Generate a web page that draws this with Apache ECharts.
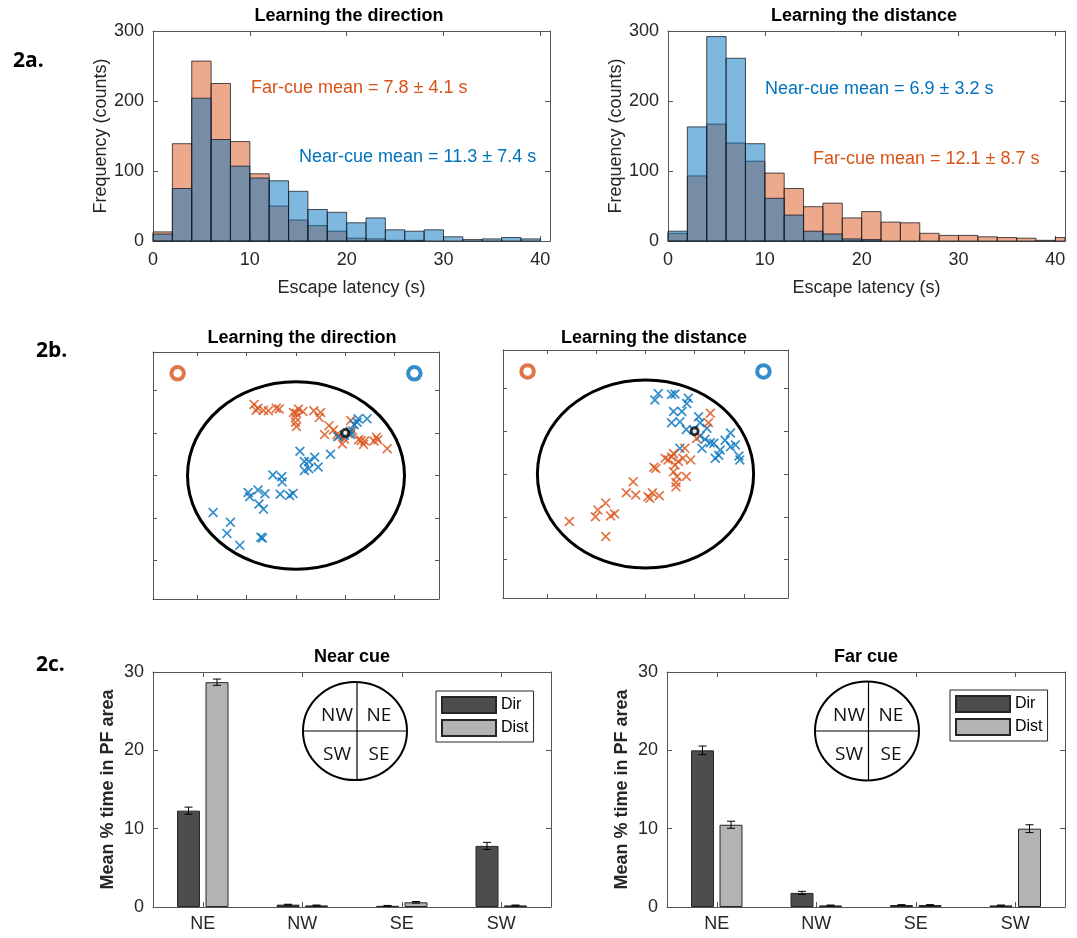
<!DOCTYPE html>
<html><head><meta charset="utf-8">
<script src="https://cdn.jsdelivr.net/npm/echarts@6/dist/echarts.min.js"></script>
<style>html,body{margin:0;padding:0;background:#fff}#c{width:1077px;height:938px}</style>
</head><body><div id="c"></div>
<script>
// ---------------- DATA ----------------
// 2a histograms: bins of 2 s starting at these edges
const BIN_WIDTH = 2;
const binStarts = [0,2,4,6,8,10,12,14,16,18,20,22,24,26,28,30,32,34,36,38,40];
const dirNearCounts  = [10,75,204,145,107,90,86,71,45,41,26,33,16,14,16,6,2,3,5,3,0];
const dirFarCounts   = [13,139,257,225,142,96,50,30,22,14,4,3,1,1,0,0,0,0,0,0,0];
const distNearCounts = [14,163,292,261,139,61,37,14,10,3,2,0,0,0,0,0,0,0,0,0,0];
const distFarCounts  = [11,93,167,140,114,97,75,49,54,33,42,27,26,11,8,8,6,5,4,1,5];
const histXTicks = [0,10,20,30,40];
const histYTicks = [0,100,200,300];

// 2b end positions (pool units, centre at 0,0)
const POOL_RADIUS = 2.2;
const cueFarPos  = [-2.4, 2.4];
const cueNearPos = [2.4, 2.4];
const platformPos = [1.0, 1.0];
const dirFarPts = [[-0.85,1.67],[-0.81,1.53],[-0.77,1.58],[-0.66,1.53],[-0.56,1.52],[-0.40,1.58],[-0.34,1.56],
  [-0.05,1.48],[0.01,1.46],[0.05,1.56],[0.14,1.50],[-0.01,1.36],[-0.01,1.25],[0.01,1.15],[0.36,1.52],[0.50,1.48],
  [0.47,1.36],[0.67,1.17],[0.58,0.96],[0.76,1.07],[0.83,0.96],[0.94,0.74],[0.98,0.86],[1.11,1.29],[1.15,1.05],
  [1.27,0.84],[1.37,0.73],[1.39,0.81],[1.58,0.81],[1.63,0.90],[1.66,0.84],[1.85,0.63],[1.06,0.98],[1.32,0.82],[0.88,0.94]];
const dirNearPts = [[-1.68,-0.87],[-1.33,-1.10],[-1.40,-1.36],[-1.14,-1.64],[-0.71,-1.45],[-0.68,-1.47],[-0.97,-0.40],
  [-0.94,-0.50],[-0.77,-0.34],[-0.63,-0.43],[-0.75,-0.67],[-0.66,-0.79],[-0.47,0.01],[-0.29,-0.03],[-0.28,-0.15],
  [-0.32,-0.44],[-0.13,-0.47],[-0.06,-0.42],[0.08,0.57],[0.17,0.33],[0.26,0.33],[0.17,0.12],[0.26,0.16],[0.38,0.43],
  [0.45,0.20],[0.70,0.50],[0.85,0.91],[0.98,0.94],[1.10,1.04],[1.18,1.19],[1.26,1.33],[1.44,1.33],[1.24,1.25],[1.11,0.96]];
const distNearPts = [[0.19,1.73],[0.26,1.88],[0.53,1.86],[0.60,1.87],[0.87,1.77],[0.84,1.65],[0.57,1.46],[0.74,1.46],
  [0.53,1.20],[0.70,1.22],[0.83,1.04],[1.08,1.34],[1.11,1.20],[1.25,1.07],[0.70,0.60],[1.15,0.60],[1.21,0.81],
  [1.32,0.73],[1.39,0.72],[1.42,0.37],[1.49,0.44],[1.52,0.56],[1.62,0.79],[1.73,0.96],[1.73,0.64],[1.83,0.68],
  [1.90,0.42],[1.92,0.33],[0.98,1.03],[1.11,0.89]];
const distFarPts = [[-1.55,-1.11],[-0.81,-0.68],[-0.97,-0.84],[-1.02,-1.00],[-0.71,-0.98],[-0.63,-0.93],[-0.81,-1.46],
  [-0.25,-0.18],[-0.39,-0.44],[-0.20,-0.49],[0.05,-0.53],[0.14,-0.44],[0.28,-0.51],[0.09,-0.57],[0.17,0.16],
  [0.21,0.13],[0.40,0.37],[0.46,0.33],[0.53,0.40],[0.57,0.48],[0.60,0.21],[0.57,0.05],[0.64,-0.06],[0.62,-0.20],
  [0.62,-0.30],[0.83,-0.06],[0.76,0.37],[0.92,0.33],[0.80,0.60],[1.28,1.20],[1.32,1.42],[1.04,0.83],[0.67,0.29]];

// 2c mean % time in PF area
const quadrants = ['NE','NW','SE','SW'];
const nearDir     = [12.3, 0.3, 0.15, 7.8];
const nearDirErr  = [0.45, 0.05, 0.05, 0.45];
const nearDist    = [28.7, 0.2, 0.6, 0.2];
const nearDistErr = [0.4, 0.05, 0.1, 0.05];
const farDir      = [20.0, 1.8, 0.25, 0.2];
const farDirErr   = [0.55, 0.2, 0.05, 0.05];
const farDist     = [10.5, 0.2, 0.25, 10.0];
const farDistErr  = [0.45, 0.05, 0.05, 0.5];
const barYTicks = [0,10,20,30];

// ---------------- STYLE ----------------
const ORANGE = '#D95319', BLUE = '#0072BD';
const ORANGE_FILL = 'rgba(217,83,25,0.5)', BLUE_FILL = 'rgba(0,114,189,0.5)';
const DIR_COLOR = '#4D4D4D', DIST_COLOR = '#B3B3B3';
const AX = '#555', TXT = '#262626';
const FONT = '"Liberation Sans", Arial, sans-serif';
const HIST_XMAX = 41, SC_LIM = 2.9;
const BAR_W = 23, BAR_GAP_PX = 5.5;

const chart = echarts.init(document.getElementById('c'), null, {renderer:'canvas'});

function axis(gridIndex, position, extra) {
  return Object.assign({
    gridIndex, position,
    axisLine: {show:true, onZero:false, lineStyle:{color:AX, width:1}},
    axisTick: {show:true, inside:true, length:5, lineStyle:{color:AX}},
    splitLine: {show:false},
    axisLabel: {show:false}
  }, extra);
}
const tickLabel = (extra) => Object.assign({show:true, fontSize:18, color:TXT, fontFamily:FONT}, extra);
const nameStyle = (bold) => ({fontSize:18, color:TXT, fontFamily:FONT, fontWeight: bold ? 'bold' : 'normal'});

const grids = [
  {left:153, top:31, width:397, height:210},
  {left:668, top:31, width:397, height:210},
  {left:153, top:352, width:286, height:247},
  {left:503, top:350, width:285, height:248},
  {left:153, top:672, width:398, height:235},
  {left:667, top:672, width:398, height:235}
];

const xAxes = [], yAxes = [];
// histograms
for (let g = 0; g < 2; g++) {
  const xb = {type:'value', min:histXTicks[0], max:HIST_XMAX, interval:10};
  xAxes.push(axis(g, 'bottom', Object.assign({}, xb, {
    axisLabel: tickLabel({margin:10, formatter: v => histXTicks.includes(v) ? String(v) : ''}),
    name:'Escape latency (s)', nameLocation:'middle', nameGap:38, nameTextStyle:nameStyle(false)})));
  xAxes.push(axis(g, 'top', Object.assign({}, xb)));
  const yb = {type:'value', min:histYTicks[0], max:histYTicks[histYTicks.length-1], interval:100};
  yAxes.push(axis(g, 'left', Object.assign({}, yb, {
    axisLabel: tickLabel({margin:9}),
    name:'Frequency (counts)', nameLocation:'middle', nameGap:42, nameRotate:90, nameTextStyle:nameStyle(false)})));
  yAxes.push(axis(g, 'right', Object.assign({}, yb)));
}
// scatter maps
for (let g = 2; g < 4; g++) {
  const b = {type:'value', min:-SC_LIM, max:SC_LIM, splitNumber:5};
  ['bottom','top'].forEach(p => xAxes.push(axis(g, p, Object.assign({}, b, {axisTick:{show:true, inside:true, length:4, lineStyle:{color:AX}}}))));
  ['left','right'].forEach(p => yAxes.push(axis(g, p, Object.assign({}, b, {axisTick:{show:true, inside:true, length:4, lineStyle:{color:AX}}}))));
}
// bar charts
for (let g = 4; g < 6; g++) {
  const cb = {type:'category', data:quadrants, axisTick:{show:true, inside:true, alignWithLabel:true, length:5, lineStyle:{color:AX}}};
  xAxes.push(axis(g, 'bottom', Object.assign({}, cb, {axisLabel: tickLabel({margin:8})})));
  xAxes.push(axis(g, 'top', Object.assign({}, cb)));
  const vb = {type:'value', min:barYTicks[0], max:barYTicks[barYTicks.length-1], interval:10};
  yAxes.push(axis(g, 'left', Object.assign({}, vb, {
    axisLabel: tickLabel({margin:9}),
    name:'Mean % time in PF area', nameLocation:'middle', nameGap:36, nameRotate:90, nameTextStyle:nameStyle(true)})));
  yAxes.push(axis(g, 'right', Object.assign({}, vb)));
}

// ---------------- SERIES ----------------
function histSeries(axisIdx, counts, fill, name) {
  return {
    type:'custom', name, xAxisIndex:axisIdx, yAxisIndex:axisIdx,
    data: binStarts.map((s, i) => [s, counts[i]]),
    encode:{x:0, y:1},
    renderItem: (params, api) => {
      const x0 = api.value(0), c = api.value(1);
      if (!c) return null;
      const x1 = Math.min(x0 + BIN_WIDTH, HIST_XMAX);
      const p0 = api.coord([x0, 0]), p1 = api.coord([x1, c]);
      return {type:'rect', shape:{x:p0[0], y:p1[1], width:p1[0]-p0[0], height:p0[1]-p1[1]},
        style:{fill, stroke:'rgba(20,20,30,0.75)', lineWidth:1}};
    }
  };
}
const XMARK = 'path://M0,1.2 L1.2,0 L5,3.8 L8.8,0 L10,1.2 L6.2,5 L10,8.8 L8.8,10 L5,6.2 L1.2,10 L0,8.8 L3.8,5 Z';
function mapSeries(axisIdx, farPts, nearPts, nearOnTop) {
  const far = {type:'scatter', name:'far'+axisIdx, xAxisIndex:axisIdx, yAxisIndex:axisIdx, data:farPts,
    symbol:XMARK, symbolSize:10, itemStyle:{color:ORANGE}, z: nearOnTop ? 3 : 4, silent:true};
  const near = {type:'scatter', name:'near'+axisIdx, xAxisIndex:axisIdx, yAxisIndex:axisIdx, data:nearPts,
    symbol:XMARK, symbolSize:10, itemStyle:{color:BLUE}, z: nearOnTop ? 4 : 3, silent:true};
  return [
    {type:'custom', name:'pool'+axisIdx, xAxisIndex:axisIdx, yAxisIndex:axisIdx, data:[[0,0]], encode:{x:0,y:1}, silent:true, z:2,
      renderItem: (params, api) => {
        const c = api.coord([0,0]);
        const rx = api.size([POOL_RADIUS, 0])[0], ry = api.size([0, POOL_RADIUS])[1];
        return {type:'ellipse', shape:{cx:c[0], cy:c[1], rx, ry}, style:{fill:null, stroke:'#000', lineWidth:3}};
      }},
    far, near,
    {type:'scatter', name:'cueFar'+axisIdx, xAxisIndex:axisIdx, yAxisIndex:axisIdx, data:[cueFarPos], symbol:'circle', symbolSize:12.5,
      itemStyle:{color:'#fff', borderColor:ORANGE, borderWidth:4}, silent:true, z:5},
    {type:'scatter', name:'cueNear'+axisIdx, xAxisIndex:axisIdx, yAxisIndex:axisIdx, data:[cueNearPos], symbol:'circle', symbolSize:12.5,
      itemStyle:{color:'#fff', borderColor:BLUE, borderWidth:4}, silent:true, z:5},
    {type:'scatter', name:'pf'+axisIdx, xAxisIndex:axisIdx, yAxisIndex:axisIdx, data:[platformPos], symbol:'circle', symbolSize:7,
      itemStyle:{color:'#fff', borderColor:'#000', borderWidth:2.8}, silent:true, z:6}
  ];
}
function barSeries(axisIdx, name, vals, color) {
  return {type:'bar', name, xAxisIndex:axisIdx, yAxisIndex:axisIdx, data:vals, barWidth:BAR_W,
    barGap: (BAR_GAP_PX / BAR_W * 100) + '%', itemStyle:{color, borderColor:'#262626', borderWidth:1}, silent:true};
}
function errSeries(axisIdx, vals, errs, sign) {
  return {type:'custom', name:'err', xAxisIndex:axisIdx, yAxisIndex:axisIdx, silent:true, z:5,
    data: vals.map((v, i) => [i, v, errs[i]]), encode:{x:0, y:1},
    renderItem: (params, api) => {
      const i = api.value(0), v = api.value(1), e = api.value(2);
      const hi = api.coord([i, v + e]), lo = api.coord([i, Math.max(0, v - e)]);
      const x = hi[0] + sign * (BAR_W + BAR_GAP_PX) / 2, cap = 4;
      const st = {stroke:'#000', lineWidth:1};
      return {type:'group', children:[
        {type:'line', shape:{x1:x, y1:hi[1], x2:x, y2:lo[1]}, style:st},
        {type:'line', shape:{x1:x-cap, y1:hi[1], x2:x+cap, y2:hi[1]}, style:st},
        {type:'line', shape:{x1:x-cap, y1:lo[1], x2:x+cap, y2:lo[1]}, style:st}
      ]};
    }};
}

const series = [
  histSeries(0, dirFarCounts, ORANGE_FILL, 'dirFar'),
  histSeries(0, dirNearCounts, BLUE_FILL, 'dirNear'),
  histSeries(2, distFarCounts, ORANGE_FILL, 'distFar'),
  histSeries(2, distNearCounts, BLUE_FILL, 'distNear'),
  ...mapSeries(4, dirFarPts, dirNearPts, true),
  ...mapSeries(6, distFarPts, distNearPts, false),
  barSeries(8, 'Dir', nearDir, DIR_COLOR),
  barSeries(8, 'Dist', nearDist, DIST_COLOR),
  barSeries(10, 'Dir', farDir, DIR_COLOR),
  barSeries(10, 'Dist', farDist, DIST_COLOR),
  errSeries(8, nearDir, nearDirErr, -1),
  errSeries(8, nearDist, nearDistErr, 1),
  errSeries(10, farDir, farDirErr, -1),
  errSeries(10, farDist, farDistErr, 1)
];

// ---------------- TEXT / DECORATION ----------------
function txt(x, y, text, o) {
  o = o || {};
  return {type:'text', x, y, silent:true, z:10, style:{text, fill:o.fill || '#000', fontSize:o.size || 18,
    fontWeight:o.bold ? 'bold' : 'normal', fontFamily:o.family || FONT, align:o.align || 'left', verticalAlign:'middle'}};
}
function compass(cx, cy, rx, ry, vx) {
  const f = {family:'"Open Sans", "Noto Sans", sans-serif', size:19, align:'center', fill:'#111'};
  return [
    {type:'ellipse', silent:true, z:9, shape:{cx, cy, rx, ry}, style:{fill:'#fff', stroke:'#000', lineWidth:2}},
    {type:'line', silent:true, z:9, shape:{x1:cx-rx, y1:cy, x2:cx+rx, y2:cy}, style:{stroke:'#000', lineWidth:1.2}},
    {type:'line', silent:true, z:9, shape:{x1:vx, y1:cy-ry, x2:vx, y2:cy+ry}, style:{stroke:'#000', lineWidth:1.2}},
    txt(cx-18, cy-15, 'NW', f), txt(cx+24, cy-15, 'NE', f),
    txt(cx-18, cy+24, 'SW', f), txt(cx+24, cy+24, 'SE', f)
  ];
}
const panelFont = {family:'"Open Sans", "Noto Sans", sans-serif', size:21, bold:true};
const graphics = [
  txt(13, 61, '2a.', panelFont), txt(36, 351, '2b.', panelFont), txt(36, 665, '2c.', panelFont),
  txt(349, 16, 'Learning the direction', {bold:true, align:'center'}),
  txt(864, 16, 'Learning the distance', {bold:true, align:'center'}),
  txt(302, 338, 'Learning the direction', {bold:true, align:'center'}),
  txt(654, 338, 'Learning the distance', {bold:true, align:'center'}),
  txt(352, 657, 'Near cue', {bold:true, align:'center'}),
  txt(866, 657, 'Far cue', {bold:true, align:'center'}),
  txt(251, 88, 'Far-cue mean = 7.8 ± 4.1 s', {fill:ORANGE}),
  txt(299, 157, 'Near-cue mean = 11.3 ± 7.4 s', {fill:BLUE}),
  txt(765, 89.5, 'Near-cue mean = 6.9 ± 3.2 s', {fill:BLUE}),
  txt(813, 159.5, 'Far-cue mean = 12.1 ± 8.7 s', {fill:ORANGE}),
  ...compass(355, 731, 52, 49, 357),
  ...compass(867, 731, 52, 49.5, 868.5)
];

const legendBase = {data:['Dir','Dist'], orient:'vertical', padding:5, itemGap:5, itemWidth:54, itemHeight:16,
  icon:'rect', borderColor:'#262626', borderWidth:1, backgroundColor:'#fff', selectedMode:false,
  textStyle:{fontSize:16, color:'#000', fontFamily:FONT, lineHeight:16}};

chart.setOption({
  animation:false,
  backgroundColor:'#fff',
  grid: grids.map(g => Object.assign({containLabel:false}, g)),
  xAxis: xAxes,
  yAxis: yAxes,
  legend: [Object.assign({left:436, top:691}, legendBase), Object.assign({left:950, top:690}, legendBase)],
  series,
  graphic: graphics
});
</script></body></html>
